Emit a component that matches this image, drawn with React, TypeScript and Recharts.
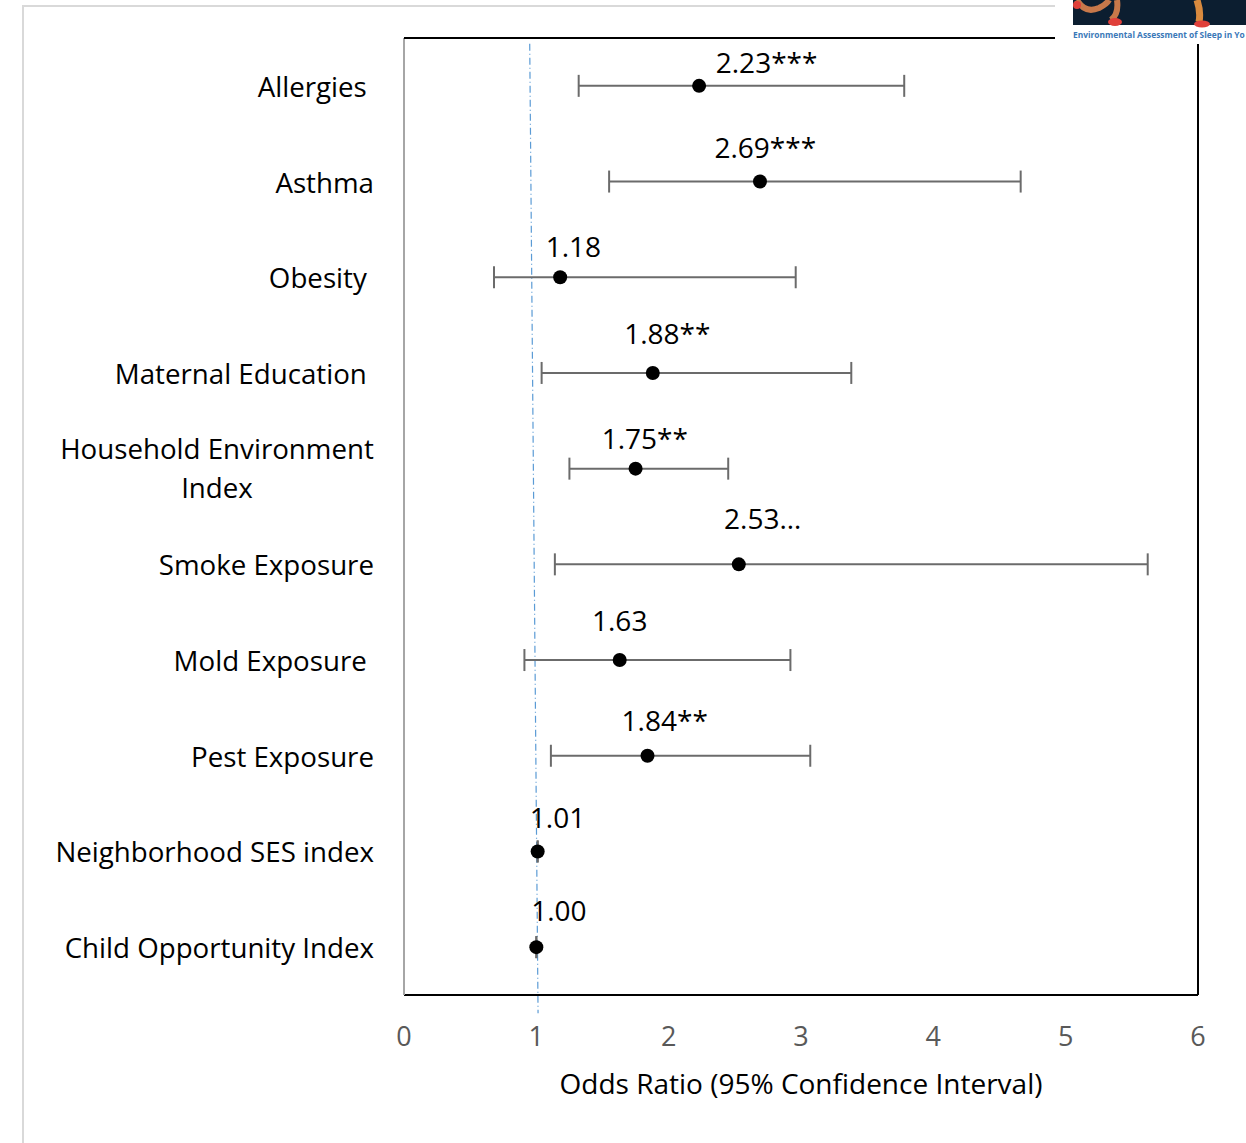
import React from "react";
import { ScatterChart, Scatter, XAxis, YAxis, ErrorBar, ReferenceLine } from "recharts";

// forest plot: odds ratios with 95% CI, one row per exposure
const categories = [
  "Allergies\u00A0",
  "Asthma",
  "Obesity\u00A0",
  "Maternal Education\u00A0",
  "Household Environment|Index",
  "Smoke Exposure",
  "Mold Exposure\u00A0",
  "Pest Exposure",
  "Neighborhood SES index",
  "Child Opportunity Index",
];
const oddsRatio = [2.23, 2.69, 1.18, 1.88, 1.75, 2.53, 1.63, 1.84, 1.01, 1.0];
const ciLow = [1.32, 1.55, 0.68, 1.04, 1.25, 1.14, 0.91, 1.11, 1.01, 1.0];
const ciHigh = [3.78, 4.66, 2.96, 3.38, 2.45, 5.62, 2.92, 3.07, 1.01, 1.0];
const valueLabels = ["2.23***", "2.69***", "1.18", "1.88**", "1.75**", "2.53…", "1.63", "1.84**", "1.01", "1.00"];
// where Excel left each data label (odds-ratio units / row units)
const labelAt = [2.74, 2.73, 1.28, 1.99, 1.82, 2.71, 1.63, 1.97, 1.16, 1.17];
const labelRow = [-0.25, 0.64, 1.67, 2.58, 3.68, 4.52, 5.58, 6.63, 7.64, 8.61];
const xTicks = [0, 1, 2, 3, 4, 5, 6];

const FONT = "'Open Sans', Lato, sans-serif";
const FS = 27.7;

const points = oddsRatio.map((v, i) => ({
  x: v,
  y: i,
  err: [v - ciLow[i], ciHigh[i] - v],
}));
const labels = labelAt.map((v, i) => ({ x: v, y: labelRow[i], text: valueLabels[i] }));

function CategoryTick({ y, payload }: any) {
  const name = categories[payload.value] ?? "";
  const lines = name.split("|");
  if (lines.length > 1) {
    return (
      <g>
        {lines.map((l, k) => (
          <text
            key={k}
            x={217}
            y={y - 1 + (k - (lines.length - 1) / 2) * 39}
            textAnchor="middle"
            dominantBaseline="central"
            fontSize={FS}
            fontFamily={FONT}
            fill="#000"
          >
            {l}
          </text>
        ))}
      </g>
    );
  }
  return (
    <text x={374} y={y} textAnchor="end" dominantBaseline="central" fontSize={FS} fontFamily={FONT} fill="#000" style={{ whiteSpace: "pre" }}>
      {name}
    </text>
  );
}

const Dot = (p: any) => <circle cx={p.cx} cy={p.cy} r={7} fill="#000" />;

const ValueLabel = (p: any) => (
  <text x={p.cx} y={p.cy} textAnchor="middle" dominantBaseline="central" fontSize={28} fontFamily={FONT} fill="#000">
    {p.payload.text}
  </text>
);

function Logo() {
  return (
    <div style={{ position: "absolute", left: 1055, top: 0, width: 191, height: 44, background: "#fff" }}>
      <svg width={191} height={44} style={{ position: "absolute", left: 0, top: 0 }}>
        <rect x={18} y={0} width={173} height={25} fill="#0c1e30" />
        <path d="M22 0 Q30 14 44 8 Q52 4 54 0" stroke="#c7784a" strokeWidth={6} fill="none" />
        <path d="M62 0 Q64 14 56 20" stroke="#c7784a" strokeWidth={6} fill="none" />
        <ellipse cx={60} cy={22} rx={7} ry={4} fill="#e0403a" />
        <circle cx={22} cy={5} r={4} fill="#e0403a" />
        <path d="M142 0 Q146 12 144 22" stroke="#d98a3e" strokeWidth={7} fill="none" />
        <ellipse cx={147} cy={24} rx={8} ry={3.5} fill="#e0403a" />
      </svg>
      <div
        style={{
          position: "absolute",
          left: 18,
          top: 30,
          width: 173,
          overflow: "hidden",
          whiteSpace: "nowrap",
          fontFamily: "'Open Sans', sans-serif",
          fontWeight: 700,
          fontSize: 8.4,
          lineHeight: "10px",
          color: "#3a78b8",
        }}
      >
        Environmental Assessment of Sleep in Yo
      </div>
    </div>
  );
}

export default function App() {
  return (
    <div style={{ position: "absolute", left: 0, top: 0, width: 1246, height: 1143, background: "#fff", overflow: "hidden" }}>
      {/* outer slide frame */}
      <div style={{ position: "absolute", left: 22, top: 5, width: 1300, height: 1200, borderLeft: "2px solid #d9d9d9", borderTop: "2px solid #d9d9d9" }} />
      <ScatterChart width={1246} height={1143} margin={{ top: 38, right: 48, bottom: 88, left: 0 }} style={{ position: "absolute", left: 0, top: 0 }}>
        <XAxis
          type="number"
          dataKey="x"
          domain={[0, 6]}
          ticks={xTicks}
          allowDataOverflow
          height={60}
          axisLine={{ stroke: "#000", strokeWidth: 2 }}
          tickLine={false}
          tickSize={6}
          tickMargin={26}
          tick={{ fill: "#595959", fontSize: 27, fontFamily: FONT }}
        />
        <YAxis
          type="number"
          dataKey="y"
          domain={[-0.5, 9.5]}
          ticks={categories.map((_, i) => i)}
          reversed
          allowDataOverflow
          width={404}
          axisLine={{ stroke: "#a6a6a6", strokeWidth: 2 }}
          tickLine={false}
          tick={<CategoryTick />}
          interval={0}
        />
        <ReferenceLine
          segment={[
            { x: 0.95, y: -0.44 },
            { x: 1.013, y: 9.69 },
          ]}
          ifOverflow="visible"
          stroke="#5b9bd5"
          strokeWidth={1.2}
          strokeDasharray="7 3 1 3"
        />
        <Scatter data={points} shape={<Dot />} isAnimationActive={false}>
          <ErrorBar dataKey="err" direction="x" width={11} strokeWidth={2} stroke="#6b6b6b" />
        </Scatter>
        <Scatter data={labels} shape={<ValueLabel />} isAnimationActive={false} />
        <text x={801} y={1083} textAnchor="middle" dominantBaseline="central" fontSize={28} fontFamily={FONT} fill="#000">
          Odds Ratio (95% Confidence Interval)
        </text>
      </ScatterChart>
      {/* plot frame: black top/right/bottom */}
      <div style={{ position: "absolute", left: 404, top: 37, width: 795, height: 958, borderTop: "2px solid #000", borderRight: "2px solid #000", boxSizing: "border-box", pointerEvents: "none" }} />
      <Logo />
    </div>
  );
}
